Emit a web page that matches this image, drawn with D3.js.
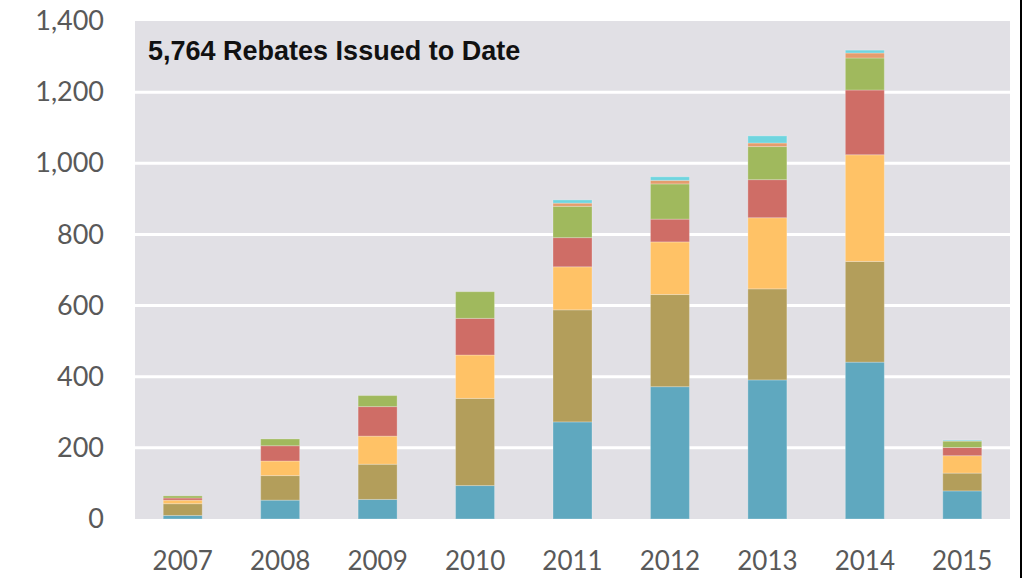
<!DOCTYPE html>
<html>
<head>
<meta charset="utf-8">
<script src="https://cdn.jsdelivr.net/npm/d3@7"></script>
<style>
  html, body { margin: 0; padding: 0; background: #ffffff; }
  svg { display: block; }
</style>
</head>
<body>
<svg id="chart" width="1029" height="578"></svg>
<script>
// ---- data ----
const years = ["2007", "2008", "2009", "2010", "2011", "2012", "2013", "2014", "2015"];
const seriesKeys = ["s1", "s2", "s3", "s4", "s5", "s6", "s7"];
const s1 = [10, 53, 55, 94, 273, 372, 391, 441, 79];
const s2 = [33, 69, 99, 245, 315, 259, 256, 283, 50];
const s3 = [10, 41, 79, 122, 121, 148, 200, 300, 49];
const s4 = [6, 43, 83, 103, 82, 64, 107, 182, 23];
const s5 = [6, 19, 31, 75, 88, 99, 93, 90, 18];
const s6 = [0, 0, 0, 0, 9, 10, 10, 14, 1];
const s7 = [0, 0, 0, 0, 9, 10, 20, 8, 2];
const yTicks = [0, 200, 400, 600, 800, 1000, 1200, 1400];
const titleText = "5,764 Rebates Issued to Date";
const colors = ["#5fa8bf", "#b39e5b", "#ffc266", "#cf6d66", "#a0b95d", "#e49d6d", "#6fd5df"];

const table = years.map((y, i) => ({
  year: y, s1: s1[i], s2: s2[i], s3: s3[i], s4: s4[i], s5: s5[i], s6: s6[i], s7: s7[i]
}));

// ---- layout ----
const svg = d3.select("#chart");
const plot = { left: 135, right: 1010, top: 21, bottom: 519 };

const x = d3.scaleBand().domain(years).range([134, 1011]).paddingInner(0.6).paddingOuter(0.3);
const y = d3.scaleLinear().domain([0, 1400]).range([plot.bottom, plot.top]);

// background
svg.append("rect")
  .attr("x", plot.left).attr("y", plot.top)
  .attr("width", plot.right - plot.left).attr("height", plot.bottom - plot.top)
  .attr("fill", "#e1e0e5");

// gridlines
svg.append("g")
  .selectAll("line")
  .data(yTicks.filter(t => t > 0 && t < 1400))
  .join("line")
  .attr("x1", plot.left).attr("x2", plot.right)
  .attr("y1", d => y(d)).attr("y2", d => y(d))
  .attr("stroke", "#ffffff").attr("stroke-width", 3);

// stacked bars
const stack = d3.stack().keys(seriesKeys)(table);
svg.append("g")
  .selectAll("g")
  .data(stack)
  .join("g")
  .attr("fill", (d, i) => colors[i])
  .selectAll("rect")
  .data(d => d.filter(p => p[1] - p[0] > 0))
  .join("rect")
  .attr("x", d => x(d.data.year))
  .attr("width", x.bandwidth())
  .attr("y", d => y(d[1]))
  .attr("height", d => y(d[0]) - y(d[1]))
  .attr("stroke", "#ffffff").attr("stroke-opacity", 0.25).attr("stroke-width", 1);

// y axis
const yAxis = svg.append("g")
  .attr("transform", "translate(104,0)")
  .call(d3.axisLeft(y).tickValues(yTicks).tickFormat(d3.format(",")).tickSize(0).tickPadding(0));
yAxis.select(".domain").remove();
yAxis.selectAll("text")
  .attr("font-family", "Lato, 'Open Sans', sans-serif")
  .attr("font-size", 27)
  .attr("fill", "#595959");

// x axis
const xAxis = svg.append("g")
  .attr("transform", `translate(0,${plot.bottom})`)
  .call(d3.axisBottom(x).tickSize(0).tickPadding(33));
xAxis.select(".domain").remove();
xAxis.selectAll("text")
  .attr("font-family", "Lato, 'Open Sans', sans-serif")
  .attr("font-size", 26)
  .attr("fill", "#595959");

// title
svg.append("text")
  .attr("x", 148).attr("y", 60)
  .attr("font-family", "'Liberation Sans', Arial, sans-serif")
  .attr("font-weight", "bold")
  .attr("font-size", 27)
  .attr("fill", "#111111")
  .text(titleText);

// right border line
svg.append("line")
  .attr("x1", 1021).attr("x2", 1021).attr("y1", 0).attr("y2", 578)
  .attr("stroke", "#000000").attr("stroke-width", 2);
</script>
</body>
</html>
